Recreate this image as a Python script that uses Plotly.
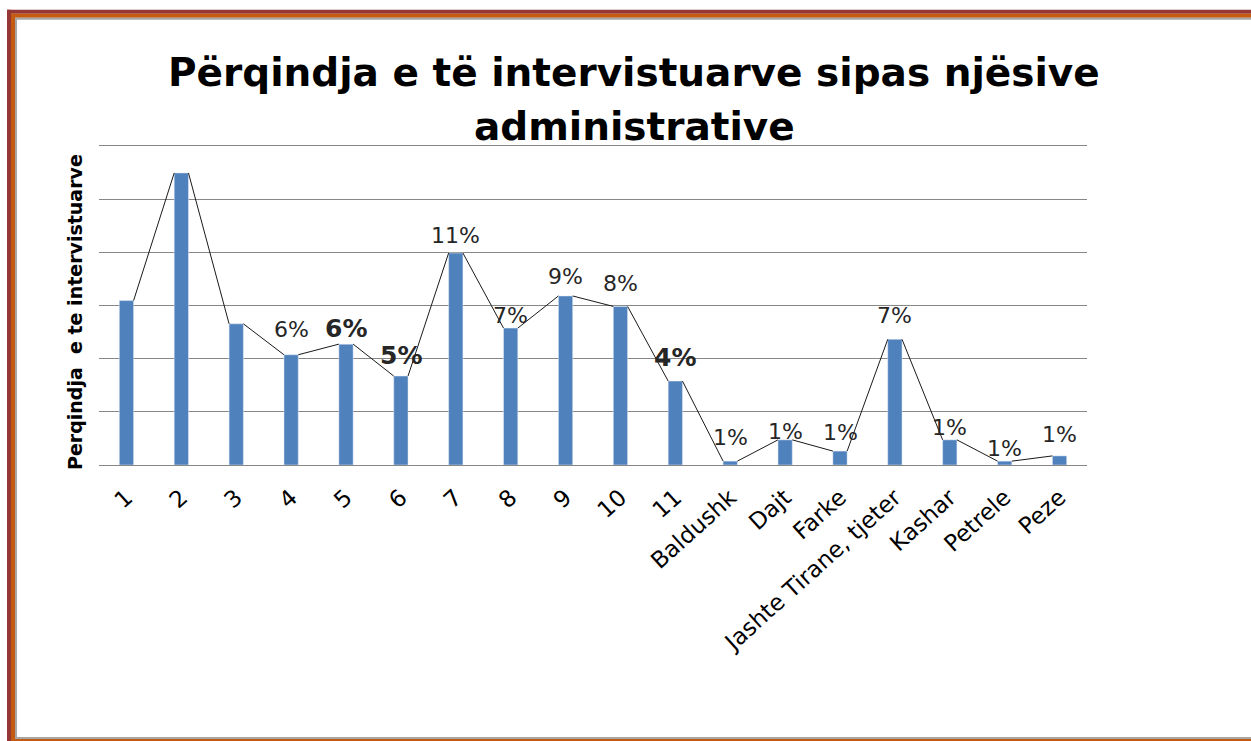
import plotly.graph_objects as go

categories = ["1", "2", "3", "4", "5", "6", "7", "8", "9", "10", "11",
              "Baldushk", "Dajt", "Farke", "Jashte Tirane, tjeter",
              "Kashar", "Petrele", "Peze"]
values = [8.5, 15.1, 7.3, 5.7, 6.25, 4.6, 10.96, 7.08, 8.74, 8.2, 4.34,
          0.2, 1.3, 0.72, 6.5, 1.3, 0.2, 0.47]
labels = ["", "", "", "6%", "6%", "5%", "11%", "7%", "9%", "8%", "4%",
          "1%", "1%", "1%", "7%", "1%", "1%", "1%"]
label_bold = [False, False, False, False, True, True, False, False, False, False, True,
              False, False, False, False, False, False, False]
label_shift = [0, 0, 0, 25, 16, 21, 18, 13, 19, 23, 24, 24, 8, 19, 24, 12, 13, 21]

W, H = 1251, 741
Y_TOP = 16.65          # axis range top
GRID_TOP_PX = 146      # pixel row of the 16.5 gridline
AXIS_PX = 465
unit = (AXIS_PX - GRID_TOP_PX) / 16.5
ML, MR = 99, W - 1087
MB = H - AXIS_PX
MT = AXIS_PX - Y_TOP * unit
PW, PH = W - ML - MR, H - MT - MB

def px(x):
    return (x - ML) / PW

def py(y):
    return (H - MB - y) / PH

BAR_W = 0.26
idx = list(range(len(categories)))

fig = go.Figure()
fig.add_trace(go.Bar(x=idx, y=values, marker_color="#4F81BD",
                     width=BAR_W, showlegend=False))

# connector line: from top-right corner of each bar to top-left corner of the next
lx, ly = [], []
for i in range(len(values) - 1):
    lx += [i + BAR_W / 2, i + 1 - BAR_W / 2, None]
    ly += [values[i], values[i + 1], None]
fig.add_trace(go.Scatter(x=lx, y=ly, mode="lines", connectgaps=False,
                         line=dict(color="#1a1a1a", width=1), showlegend=False))

for i, (v, t, b, s) in enumerate(zip(values, labels, label_bold, label_shift)):
    if not t:
        continue
    fig.add_annotation(x=i, y=v, text=f"<b>{t}</b>" if b else t, showarrow=False,
                       yshift=s, font=dict(family="DejaVu Sans", size=25 if b else 22,
                                           color="#262626"))

# title
for txt, ypx in [("Përqindja e të intervistuarve sipas njësive", 73),
                 ("administrative", 127)]:
    fig.add_annotation(xref="paper", yref="paper", x=px(634), y=py(ypx),
                       text=f"<b>{txt}</b>", showarrow=False,
                       font=dict(family="DejaVu Sans", size=39, color="black"),
                       xanchor="center", yanchor="middle")

# y axis title
fig.add_annotation(xref="paper", yref="paper", x=px(75), y=py(312),
                   text="<b>Perqindja&nbsp; e te intervistuarve</b>", textangle=-90,
                   showarrow=False, xanchor="center", yanchor="middle",
                   font=dict(family="DejaVu Sans", size=19, color="black"))

# frame
shapes = []
def rect(x0, y0, x1, y1, color):
    shapes.append(dict(type="rect", xref="paper", yref="paper", x0=px(x0), x1=px(x1),
                       y0=py(y1), y1=py(y0), fillcolor=color, line=dict(width=0),
                       layer="above"))
rect(7, 10, 1251, 14, "#953735")
rect(11, 14, 1251, 18, "#C55A11")
rect(15, 18, 1251, 20, "#A6A6A6")
rect(7, 10, 11, 741, "#953735")
rect(11, 14, 15, 741, "#C55A11")
rect(15, 18, 17, 739, "#A6A6A6")
rect(15, 737, 1251, 739, "#A6A6A6")
rect(11, 739, 1251, 741, "#C55A11")

fig.update_layout(
    width=W, height=H, margin=dict(l=ML, r=MR, t=MT, b=MB),
    paper_bgcolor="white", plot_bgcolor="white", shapes=shapes,
    xaxis=dict(tickmode="array", tickvals=idx,
               ticktext=categories, range=[-0.5, len(categories) - 0.5],
               tickangle=-42, showgrid=False, showline=True,
               linecolor="#878787", linewidth=1, ticks="", ticklabelstandoff=9,
               tickfont=dict(family="DejaVu Sans", size=23, color="black")),
    yaxis=dict(range=[0, Y_TOP], dtick=2.75, showticklabels=False, showgrid=True,
               gridcolor="#878787", gridwidth=1, zeroline=False, ticks=""),
)

fig.write_html("out.html", config={"displayModeBar": False},
               post_script="document.body.style.margin='0';")
